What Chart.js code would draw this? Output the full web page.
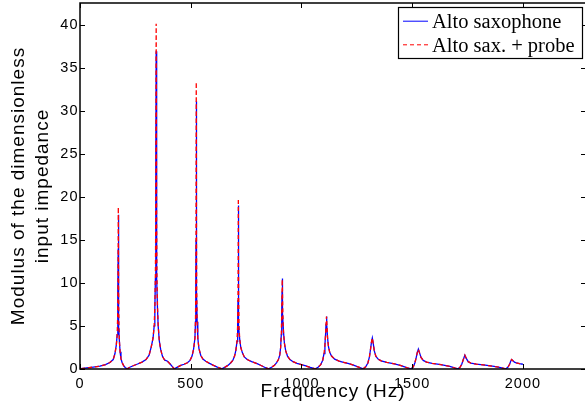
<!DOCTYPE html>
<html><head><meta charset="utf-8">
<script src="https://cdn.jsdelivr.net/npm/chart.js@4.4.1/dist/chart.umd.min.js"></script>
<style>html,body{margin:0;padding:0;background:#fff;overflow:hidden;width:585px;height:417px}
#wrap{width:588px;height:417px}</style></head><body>
<div id="wrap"><canvas id="c" width="588" height="417"></canvas></div>
<script>
// Frequency samples (Hz)
const freq = [
  5,30,60,90,115,135,150,158,164,168,170,171.5,172.5,173,173.5,174.5,176,178,181,185,190,197,205,213,
  225,240,260,280,298,312,322,330,335,338,340.5,342,343,344,345,346,347.5,350,353,358,364,372,382,395,408,418,426,
  440,455,470,485,497,506,513,519,521.5,523,524,525,526,527,529,532,537,545,555,568,585,603,620,641,
  655,668,680,690,698,704,709,712,713.5,714.5,715,715.5,716.5,718,721,726,733,742,755,775,800,820,838,852,
  865,878,888,896,902,906,909,911,912.5,913,914,916,919,923,929,937,948,962,980,1000,1020,1040,1063,
  1075,1087,1096,1102,1106,1109,1111,1113,1115,1118,1122,1128,1136,1150,1170,1190,1210,1235,1258,1279,
  1290,1300,1307,1312,1316,1320,1324,1329,1336,1346,1360,1385,1420,1450,1478,1496,
  1505,1512,1518,1523,1528,1533,1540,1550,1565,1590,1630,1670,1695,1707,
  1716,1724,1731,1738,1745,1753,1765,1790,1830,1870,1900,1923,
  1932,1940,1945,1949,1955,1962,1970,1985,2000
];
// Alto saxophone (solid blue)
const saxophone = [
  0.05,0.12,0.22,0.33,0.5,0.75,1.1,1.8,2.8,4.0,6.0,9.0,14,17.9,14,8.5,5.0,3.2,2.0,1.2,0.75,0.4,0.15,0.02,
  0.2,0.38,0.58,0.8,1.1,1.6,2.6,3.6,5.0,7.0,10.5,16,25,36.9,25,16,10.5,7,5.0,3.3,2.3,1.5,1.05,0.9,0.55,0.25,0.02,
  0.22,0.42,0.55,0.72,1.0,1.5,2.3,3.6,5.5,9,15,31.1,15,9,5.5,3.6,2.4,1.6,1.15,0.9,0.65,0.42,0.22,0.02,
  0.22,0.42,0.7,1.0,1.5,2.2,3.2,5.0,8,13,19.0,13,8,5.0,3.5,2.5,1.9,1.4,1.1,0.85,0.62,0.38,0.15,0.02,
  0.2,0.42,0.75,1.1,1.6,2.5,4.0,6.5,9,10.5,9.5,6.5,4.3,3.0,2.1,1.5,1.1,0.85,0.66,0.5,0.35,0.18,0.02,
  0.2,0.5,1.0,1.8,2.8,4.0,5.2,6.1,5.2,3.6,2.6,1.9,1.5,1.15,0.92,0.78,0.65,0.45,0.22,0.02,
  0.25,0.7,1.4,2.3,3.1,3.6,3.0,2.1,1.5,1.15,0.95,0.78,0.6,0.4,0.12,0.02,
  0.25,0.7,1.3,1.9,2.3,1.9,1.35,1.0,0.8,0.65,0.5,0.3,0.1,0.02,
  0.2,0.55,1.1,1.6,1.2,0.85,0.68,0.56,0.45,0.3,0.17,0.02,
  0.2,0.55,0.9,1.1,0.95,0.8,0.72,0.62,0.55
];
// Alto sax. + probe (dashed red)
const saxProbe = [
  0.05,0.12,0.22,0.33,0.5,0.75,1.1,1.8,2.8,4.0,6.1,9.3,14.8,18.8,14.8,8.8,5.1,3.2,2.0,1.2,0.75,0.4,0.15,0.02,
  0.2,0.38,0.58,0.8,1.1,1.6,2.6,3.6,5.1,7.2,11,17,27,40.1,27,17,11,7.2,5.1,3.3,2.3,1.5,1.05,0.9,0.55,0.25,0.02,
  0.22,0.42,0.55,0.72,1.0,1.5,2.3,3.6,5.6,9.3,16,33.3,16,9.3,5.6,3.6,2.4,1.6,1.15,0.9,0.65,0.42,0.22,0.02,
  0.22,0.42,0.7,1.0,1.5,2.2,3.2,5.1,8.2,13.5,19.8,13.5,8.2,5.1,3.5,2.5,1.9,1.4,1.1,0.85,0.62,0.38,0.15,0.02,
  0.2,0.42,0.75,1.1,1.6,2.5,4.0,6.5,9,10.4,9.5,6.5,4.3,3.0,2.1,1.5,1.1,0.85,0.66,0.5,0.35,0.18,0.02,
  0.2,0.5,1.0,1.8,2.8,4.0,5.2,6.1,5.2,3.6,2.6,1.9,1.5,1.15,0.92,0.78,0.65,0.45,0.22,0.02,
  0.25,0.7,1.4,2.3,3.1,3.6,3.0,2.1,1.5,1.15,0.95,0.78,0.6,0.4,0.12,0.02,
  0.25,0.7,1.3,1.9,2.3,1.9,1.35,1.0,0.8,0.65,0.5,0.3,0.1,0.02,
  0.2,0.55,1.1,1.6,1.2,0.85,0.68,0.56,0.45,0.3,0.17,0.02,
  0.2,0.55,0.9,1.1,0.95,0.8,0.72,0.62,0.55
];
const seriesNames = ['Alto saxophone', 'Alto sax. + probe'];
const xTicks = [0, 500, 1000, 1500, 2000];
const yTicks = [0, 5, 10, 15, 20, 25, 30, 35, 40];
const xTitle = 'Frequency (Hz)';
const yTitle = ['Modulus of the dimensionless', 'input impedance'];

const frame = {
  id: 'frame',
  beforeDraw(chart) { chart.ctx.letterSpacing = '1px'; },
  afterDraw(chart) {
    const ctx = chart.ctx, a = chart.chartArea, sx = chart.scales.x, sy = chart.scales.y;
    ctx.save();
    ctx.letterSpacing = '0px';
    ctx.setLineDash([]);
    ctx.strokeStyle = '#000';
    ctx.lineWidth = 1;
    ctx.beginPath();
    sx.ticks.forEach(t => {
      const p = Math.round(sx.getPixelForValue(t.value)) + 0.5;
      ctx.moveTo(p, a.bottom); ctx.lineTo(p, a.bottom - 5);
      ctx.moveTo(p, a.top); ctx.lineTo(p, a.top + 5);
    });
    sy.ticks.forEach(t => {
      const p = Math.round(sy.getPixelForValue(t.value)) + 0.5;
      ctx.moveTo(a.left, p); ctx.lineTo(a.left + 5, p);
      ctx.moveTo(a.right, p); ctx.lineTo(a.right - 5, p);
    });
    ctx.stroke();
    ctx.lineWidth = 1.5;
    ctx.strokeRect(a.left, a.top, a.right - a.left, a.bottom - a.top);
    // legend box
    const lx = 398, ly = 7, lw = 184, lh = 51;
    ctx.fillStyle = '#fff';
    ctx.fillRect(lx, ly, lw, lh);
    ctx.lineWidth = 1.2;
    ctx.strokeRect(lx + 0.5, ly + 0.5, lw, lh);
    const ds = chart.data.datasets;
    const rows = [20.7, 44.3];
    ds.forEach((d, i) => {
      ctx.beginPath();
      ctx.strokeStyle = d.borderColor;
      ctx.lineWidth = 1;
      ctx.setLineDash(d.borderDash || []);
      ctx.moveTo(403, rows[i] + 0.5); ctx.lineTo(428, rows[i] + 0.5);
      ctx.stroke();
      ctx.setLineDash([]);
      ctx.fillStyle = '#000';
      ctx.font = '20.5px "Liberation Serif"';
      ctx.textBaseline = 'alphabetic';
      ctx.textAlign = 'left';
      ctx.fillText(d.label, 432, rows[i] + 7.6);
    });
    ctx.restore();
    ctx.letterSpacing = '0px';
  }
};

new Chart(document.getElementById('c'), {
  type: 'line',
  data: {
    datasets: [
      { label: seriesNames[0], data: freq.map((f, i) => ({ x: f, y: saxophone[i] })),
        borderColor: '#0000ff', borderWidth: 1.3, order: 1 },
      { label: seriesNames[1], data: freq.map((f, i) => ({ x: f, y: saxProbe[i] })),
        borderColor: '#ff0000', borderWidth: 1.3, borderDash: [4, 3], order: 0 }
    ]
  },
  options: {
    responsive: false, animation: false, devicePixelRatio: 1,
    layout: { padding: { top: 3, right: 2, left: 0, bottom: 0 } },
    plugins: { legend: { display: false }, tooltip: { enabled: false } },
    elements: { point: { radius: 0 }, line: { tension: 0, fill: false } },
    scales: {
      x: {
        type: 'linear', min: 0, max: 2285,
        afterBuildTicks: s => { s.ticks = xTicks.map(v => ({ value: v })); },
        afterFit: s => { s.height = 48; s.paddingLeft = 0; s.paddingRight = 0; },
        grid: { display: false, drawTicks: false }, border: { display: false },
        ticks: { color: '#000', font: { family: 'Liberation Sans', size: 14.5 }, padding: 6.3, maxRotation: 0, autoSkip: false,
                 callback: v => String(v) },
        title: { display: true, text: xTitle, color: '#000', font: { family: 'Liberation Sans', size: 19 }, padding: { top: 0, bottom: 14 } }
      },
      y: {
        type: 'linear', min: 0, max: 42.5,
        afterBuildTicks: s => { s.ticks = yTicks.map(v => ({ value: v })); },
        afterFit: s => { s.width = 80; s.paddingTop = 0; s.paddingBottom = 0; },
        grid: { display: false, drawTicks: false }, border: { display: false },
        ticks: { color: '#000', font: { family: 'Liberation Sans', size: 14.5 }, padding: 1.5, autoSkip: false,
                 callback: v => String(v) },
        title: { display: true, text: yTitle, color: '#000', font: { family: 'Liberation Sans', size: 19, lineHeight: 1.263 }, padding: { top: 6.7, bottom: 0 } }
      }
    }
  },
  plugins: [frame]
});
</script>
</body></html>
